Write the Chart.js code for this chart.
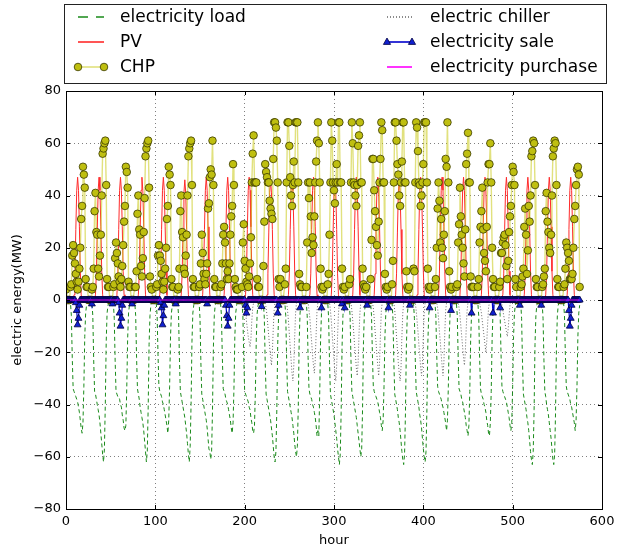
<!DOCTYPE html>
<html><head><meta charset="utf-8">
<script src="https://cdn.jsdelivr.net/npm/chart.js@4.4.1/dist/chart.umd.min.js"></script>
<style>html,body{margin:0;padding:0;background:#fff;}canvas{display:block;}</style>
</head><body>
<canvas id="c" width="621" height="552"></canvas>
<script>
const xTicks = [0,100,200,300,400,500,600];
const yTicks = [-80,-60,-40,-20,0,20,40,60,80];
const seriesNames = ['electricity load','PV','CHP','electric chiller','electricity sale','electricity purchase'];

// hourly values, one line per day (24 days x 24 hours)
const load = [
-1,-1,-1,-1,-1,-1,-6,-22,-34,-35,-36,-37,-38,-39,-41,-43,-46,-49,-51,-47,-33,-14,-5,-2,
-1,-1,-1,-1,-1,-1,-6,-23,-35,-36,-38,-40,-42,-44,-47,-51,-55,-59,-62,-57,-40,-16,-5,-2,
-1,-1,-1,-1,-1,-1,-7,-23,-35,-36,-37,-37,-38,-40,-41,-44,-46,-49,-50,-48,-34,-15,-5,-2,
-1,-1,-1,-1,-1,-1,-6,-22,-34,-36,-38,-41,-43,-45,-47,-50,-54,-58,-62,-58,-41,-17,-6,-2,
-1,-1,-1,-1,-1,-1,-6,-21,-33,-35,-36,-37,-39,-40,-42,-44,-46,-48,-51,-46,-33,-14,-5,-2,
-1,-1,-1,-1,-1,-1,-6,-23,-35,-37,-39,-41,-43,-45,-48,-51,-55,-59,-62,-56,-40,-16,-5,-2,
-1,-1,-1,-1,-1,-1,-7,-24,-36,-38,-40,-42,-44,-46,-49,-53,-57,-58,-61,-58,-42,-18,-6,-2,
-1,-1,-1,-1,-1,-1,-6,-22,-34,-35,-36,-38,-39,-40,-42,-44,-46,-49,-51,-47,-34,-14,-5,-2,
-1,-1,-1,-1,-1,-1,-6,-22,-35,-36,-37,-38,-39,-41,-42,-45,-47,-50,-51,-48,-35,-15,-5,-2,
-1,-1,-1,-1,-1,-1,-7,-24,-36,-38,-40,-42,-44,-46,-49,-52,-56,-60,-62,-58,-42,-17,-6,-2,
-1,-1,-1,-1,-1,-1,-6,-23,-35,-37,-39,-41,-43,-45,-48,-51,-55,-58,-60,-56,-41,-16,-5,-2,
-1,-1,-1,-1,-1,-1,-6,-22,-34,-36,-37,-38,-40,-41,-43,-45,-48,-52,-50,-52,-36,-15,-5,-2,
-1,-1,-1,-1,-1,-1,-7,-24,-36,-38,-40,-42,-44,-47,-50,-53,-57,-60,-63,-59,-43,-18,-6,-2,
-1,-1,-1,-1,-1,-1,-6,-23,-35,-37,-39,-41,-43,-45,-48,-51,-54,-57,-60,-57,-41,-16,-5,-2,
-1,-1,-1,-1,-1,-1,-6,-21,-33,-35,-36,-37,-38,-39,-41,-43,-45,-48,-50,-46,-33,-14,-5,-2,
-1,-1,-1,-1,-1,-1,-7,-24,-36,-38,-40,-42,-45,-47,-50,-54,-58,-61,-63,-59,-43,-18,-6,-2,
-1,-1,-1,-1,-1,-1,-7,-23,-35,-37,-39,-41,-44,-46,-49,-53,-57,-60,-62,-58,-42,-17,-6,-2,
-1,-1,-1,-1,-1,-1,-6,-21,-33,-35,-36,-37,-38,-40,-41,-43,-45,-47,-50,-46,-33,-14,-5,-2,
-1,-1,-1,-1,-1,-1,-6,-22,-34,-35,-36,-38,-39,-41,-43,-45,-48,-50,-52,-48,-35,-15,-5,-2,
-1,-1,-1,-1,-1,-1,-6,-22,-34,-36,-37,-38,-40,-41,-43,-46,-48,-51,-52,-47,-35,-15,-5,-2,
-1,-1,-1,-1,-1,-1,-6,-21,-33,-35,-36,-37,-38,-39,-41,-43,-45,-48,-50,-47,-33,-14,-5,-2,
-1,-1,-1,-1,-1,-1,-7,-24,-36,-38,-40,-42,-45,-47,-50,-54,-58,-61,-63,-58,-42,-17,-6,-2,
-1,-1,-1,-1,-1,-1,-7,-23,-35,-37,-40,-42,-44,-47,-50,-53,-57,-61,-63,-59,-43,-18,-6,-2,
-1,-1,-1,-1,-1,-1,-6,-21,-33,-35,-36,-37,-38,-40,-41,-43,-45,-47,-50,-46,-33,-14,-5,-2
];

const pv = [
0,0,0,0,0,0,0,0,0,2,10,27,42,47,42,28,11,2,0,0,0,0,0,0,
0,0,0,0,0,0,0,0,0,2,10,27,42,47,42,28,11,2,0,0,0,0,0,0,
0,0,0,0,0,0,0,0,0,2,10,27,42,47,42,28,11,2,0,0,0,0,0,0,
0,0,0,0,0,0,0,0,0,2,10,27,42,47,42,28,11,2,0,0,0,0,0,0,
0,0,0,0,0,0,0,0,0,2,10,27,42,47,42,28,11,2,0,0,0,0,0,0,
0,0,0,0,0,0,0,0,0,2,10,26,41,46,41,27,10,2,0,0,0,0,0,0,
0,0,0,0,0,0,0,0,0,2,10,27,42,47,42,28,11,2,0,0,0,0,0,0,
0,0,0,0,0,0,0,0,0,2,10,27,42,47,42,28,11,2,0,0,0,0,0,0,
0,0,0,0,0,0,0,0,0,2,10,27,42,47,42,28,11,2,0,0,0,0,0,0,
0,0,0,0,0,0,0,0,0,2,10,26,41,46,41,27,10,2,0,0,0,0,0,0,
0,0,0,0,0,0,0,0,0,2,10,27,42,47,42,28,11,2,0,0,0,0,0,0,
0,0,0,0,0,0,0,0,0,2,10,27,42,47,42,28,11,2,0,0,0,0,0,0,
0,0,0,0,0,0,0,0,0,2,10,26,41,46,41,27,10,2,0,0,0,0,0,0,
0,0,0,0,0,0,0,0,0,2,10,27,42,47,42,28,11,2,0,0,0,0,0,0,
0,0,0,0,0,0,0,0,0,2,10,27,42,47,42,28,11,2,0,0,0,0,0,0,
0,0,0,0,0,0,0,0,0,2,10,26,41,46,41,27,10,2,0,0,0,0,0,0,
0,0,0,0,0,0,0,0,0,2,10,27,42,47,42,28,11,2,0,0,0,0,0,0,
0,0,0,0,0,0,0,0,0,2,10,27,42,47,42,28,11,2,0,0,0,0,0,0,
0,0,0,0,0,0,0,0,0,2,10,27,42,47,42,28,11,2,0,0,0,0,0,0,
0,0,0,0,0,0,0,0,0,2,10,27,42,47,42,28,11,2,0,0,0,0,0,0,
0,0,0,0,0,0,0,0,0,2,10,27,42,47,42,28,11,2,0,0,0,0,0,0,
0,0,0,0,0,0,0,0,0,2,10,27,42,47,42,28,11,2,0,0,0,0,0,0,
0,0,0,0,0,0,0,0,0,2,10,27,42,47,42,28,11,2,0,0,0,0,0,0,
0,0,0,0,0,0,0,0,0,2,10,27,42,47,42,28,11,2,0,0,0,0,0,0
];

const chp = [
4,0,0,0,0,5,6,17,21,18,14,10,7,4,7,12,20,31,36,51,48,43,8,5,
5,0,0,0,0,4,5,12,34,41,26,25,12,9,17,25,40,56,58,60,61,44,8,5,
5,0,0,0,0,5,6,16,22,18,14,9,7,5,8,13,21,30,36,51,49,43,7,5,
5,0,0,0,0,5,5,11,33,40,27,25,13,9,16,26,39,55,58,60,61,43,9,5,
4,0,0,0,0,5,6,17,21,17,15,10,7,4,7,12,20,31,36,51,48,44,8,5,
5,0,0,0,0,4,5,12,34,40,26,24,12,10,17,25,40,55,58,60,61,44,8,5,
5,0,0,0,0,5,6,14,25,18,10,8,6,10,14,35,37,47,50,48,61,44,8,5,
5,0,0,0,0,5,6,14,25,28,22,14,8,11,8,14,25,32,36,52,44,8,5,4,
4,0,0,0,0,5,22,29,15,12,7,6,5,9,14,24,45,56,63,45,45,45,8,5,
5,0,0,0,0,13,30,52,49,47,45,45,38,35,33,31,54,68,68,66,61,45,8,5,
8,0,0,0,0,6,12,45,68,68,59,47,40,36,44,53,45,68,68,68,45,10,6,5,
5,0,0,0,0,5,22,45,39,45,32,18,24,21,32,45,53,61,68,60,45,12,5,4,
5,0,0,0,0,6,10,25,45,68,61,45,42,37,45,52,45,68,68,45,45,12,5,4,
5,0,0,0,0,6,8,45,68,60,45,44,40,36,44,59,63,68,45,45,12,6,5,4,
5,0,0,0,0,8,23,54,54,42,34,28,21,17,30,45,54,68,65,45,45,10,5,4,
5,0,0,0,0,6,15,45,68,68,61,52,48,40,36,45,53,68,68,45,45,11,5,4,
5,0,0,0,0,12,11,45,68,66,57,45,44,36,40,45,52,68,68,68,45,12,5,4,
5,0,0,0,0,5,8,20,35,45,38,22,31,20,16,25,34,54,51,68,45,11,5,4,
5,0,0,0,0,5,6,22,29,43,32,25,20,14,9,27,52,56,64,45,45,9,5,5,
5,0,0,0,0,5,8,22,28,34,43,27,18,15,11,28,45,52,52,60,45,20,8,5,
5,0,0,0,0,5,7,18,18,22,24,25,21,13,8,15,26,32,36,44,51,49,44,8,
5,0,0,0,0,5,6,9,12,28,35,25,10,19,36,30,40,55,57,61,60,44,8,5,
5,0,0,0,0,5,6,9,12,34,41,30,26,20,18,25,40,55,58,61,60,44,8,5,
5,0,0,0,0,5,6,12,22,20,18,15,8,8,8,10,20,31,36,44,50,51,48,5
];

const chiller = [
0,0,0,0,0,0,0,0,0,0,0,0,0,0,0,0,0,0,0,0,0,0,0,0,
0,0,0,0,0,0,0,0,0,0,0,0,0,0,0,0,0,0,0,0,0,0,0,0,
0,0,0,0,0,0,0,0,0,0,0,0,0,0,0,0,0,0,0,0,0,0,0,0,
0,0,0,0,0,0,0,0,0,0,0,0,0,0,0,0,0,0,0,0,0,0,0,0,
0,0,0,0,0,0,0,0,0,0,0,0,0,0,0,0,0,0,0,0,0,0,0,0,
0,0,0,0,0,0,0,0,0,0,0,0,0,0,0,0,0,0,0,0,0,0,0,0,
0,0,0,0,0,0,0,0,0,0,0,0,0,0,0,0,0,0,0,0,0,0,0,0,
0,0,0,0,0,0,0,0,0,0,0,0,0,0,0,0,0,0,0,0,0,0,0,0,
0,0,0,0,0,0,0,-1,-2,-5,-8,-11,-14,-16,-18,-15,-8,-3,-1,0,0,0,0,0,
0,0,0,0,0,0,0,-1,-3,-6,-10,-14,-18,-22,-25,-20,-11,-4,-1,0,0,0,0,0,
0,0,0,0,0,0,0,-1,-4,-8,-13,-18,-23,-28,-31,-25,-14,-5,-1,0,0,0,0,0,
0,0,0,0,0,0,0,-1,-4,-7,-12,-16,-21,-25,-28,-23,-13,-4,-1,0,0,0,0,0,
0,0,0,0,0,0,0,-1,-4,-8,-13,-18,-23,-28,-31,-25,-14,-5,-1,0,0,0,0,0,
0,0,0,0,0,0,0,-1,-4,-8,-12,-17,-21,-26,-29,-24,-13,-5,-1,0,0,0,0,0,
0,0,0,0,0,0,0,-1,-3,-7,-12,-16,-21,-25,-29,-24,-13,-4,-1,0,0,0,0,0,
0,0,0,0,0,0,0,-1,-4,-9,-14,-19,-24,-28,-31,-26,-14,-5,-1,0,0,0,0,0,
0,0,0,0,0,0,0,-1,-4,-8,-12,-17,-21,-26,-29,-24,-13,-5,-1,0,0,0,0,0,
0,0,0,0,0,0,0,-1,-3,-7,-12,-16,-21,-25,-29,-24,-13,-4,-1,0,0,0,0,0,
0,0,0,0,0,0,0,-1,-3,-6,-10,-14,-18,-22,-25,-20,-11,-4,-1,0,0,0,0,0,
0,0,0,0,0,0,0,-1,-3,-5,-8,-11,-14,-17,-20,-16,-9,-3,-1,0,0,0,0,0,
0,0,0,0,0,0,0,0,-2,-4,-6,-8,-10,-12,-14,-11,-6,-2,0,0,0,0,0,0,
0,0,0,0,0,0,0,0,0,0,0,0,0,0,0,0,0,0,0,0,0,0,0,0,
0,0,0,0,0,0,0,0,0,0,0,0,0,0,0,0,0,0,0,0,0,0,0,0,
0,0,0,0,0,0,0,0,0,0,0,0,0,0,0,0,0,0,0,0,0,0,0,0
];

const sale = [
0,0,0,0,0,0,0,0,0,0,0,-1,-4,-9.5,-7,-2,0,0,0,0,0,0,0,0,
0,0,0,0,0,-1.5,0,0,0,0,0,0,0,0,0,0,0,0,0,0,0,0,0,0,
0,0,0,0,-1.5,0,0,0,0,0,0,-1,-5,-10,-7,-2,0,0,0,0,0,0,0,0,
0,0,-1.5,0,0,0,0,0,0,0,0,0,0,0,0,0,0,0,0,0,0,0,0,0,
0,0,0,0,0,0,0,0,0,0,-1,-3,-9.5,-6,-2,0,0,0,0,0,0,0,0,0,
0,0,0,-1.5,0,0,0,0,0,0,0,0,0,0,0,0,0,0,0,0,0,0,0,0,
0,0,0,0,0,0,0,0,0,0,0,0,0,0,-1.5,0,0,0,0,0,0,0,0,0,
0,0,0,0,0,0,0,0,0,0,0,-2,-6,-10,-7,-2,0,0,0,0,0,0,0,0,
0,0,0,0,0,0,0,0,0,-2,-5,-3,0,0,0,0,0,0,0,0,0,0,0,0,
0,0,0,-2.5,0,0,0,0,0,0,0,0,0,0,0,0,0,0,0,0,0,-5,-2,0,
0,0,0,0,0,0,0,0,0,0,0,0,0,0,0,0,0,0,0,0,0,0,-3,0,
0,0,0,0,0,0,0,0,0,0,0,0,0,0,0,0,0,0,0,0,0,0,-3,0,
0,0,0,0,0,0,0,0,0,0,0,0,0,0,0,0,0,0,0,0,0,-1.5,0,0,
-3,0,0,0,0,0,0,0,0,0,0,0,0,0,0,0,0,0,0,0,0,0,0,0,
0,-2,0,0,0,0,0,0,0,0,0,0,0,0,0,0,0,0,0,0,0,0,0,0,
0,-3,0,0,0,0,0,0,0,0,0,0,0,0,0,0,0,0,0,0,0,0,0,0,
0,-2,0,0,0,0,0,0,0,0,0,0,0,0,0,0,0,0,0,0,0,0,0,-3,
0,0,0,0,0,0,0,0,0,0,0,0,0,0,0,0,0,0,0,0,0,0,0,-4,
0,0,0,0,0,0,0,0,0,0,0,0,0,0,0,0,0,0,0,0,0,0,-5,0,
0,0,0,0,0,0,0,0,0,0,0,0,0,0,0,0,0,0,0,0,0,0,-5,0,
0,0,0,0,0,0,-3,0,0,0,0,0,0,0,0,0,0,0,0,0,0,0,0,0,
0,0,0,0,-2,0,0,0,0,0,0,0,0,0,0,0,0,0,0,0,0,0,0,0,
0,0,0,0,-2,0,0,0,0,0,0,0,0,0,0,0,0,0,0,0,0,0,0,0,
0,0,0,0,0,0,0,0,0,0,0,-4,-10,-7,-2,0,0,0,0,0,0,0,0,0
];

const purchase = [
0,0,0,0,0,0,0,0,0,0,0,0,0,0,0,0,0,0,0,0,0,0,0,0,
0,0,0,0,0,0,0,0,0,0,0,0,0,0,0,0,0,0,0,0,0,0,0,0,
0,0,0,0,0,0,0,0,0,0,0,0,0,0,0,0,0,0,0,0,0,0,0,0,
0,0,0,0,0,0,0,0,0,0,0,0,0,0,0,0,0,0,0,0,0,0,0,0,
0,0,0,0,0,0,0,0,0,0,0,0,0,0,0,0,0,0,0,0,0,0,0,0,
0,0,0,0,0,0,0,0,0,0,0,0,0,0,0,0,0,0,0,0,0,0,0,0,
0,0,0,0,0,0,0,0,0,0,0,0,0,0,0,0,0,0,0,0,0,0,0,0,
0,0,0,0,0,0,0,0,0,0,0,0,0,0,0,0,0,0,0,0,0,0,0,0,
0,0,0,0,0,0,0,0,0,0,0,0,0,0,0,0,0,0,0,0,0,0,0,0,
0,0,0,0,0,0,0,0,0,0,0,0,0,0,0,0,0,0,0,0,0,0,0,0,
0,0,0,0,0,0,0,0,0,0,0,0,0,0,0,0,0,0,0,0,0,0,0,0,
0,0,0,0,0,0,0,0,0,0,0,0,0,0,0,0,0,0,0,0,0,0,0,0,
0,0,0,0,0,0,0,0,0,0,0,0,0,0,0,0,0,0,0,0,0,0,0,0,
0,0,0,0,0,0,0,0,0,0,0,0,0,0,0,0,0,0,0,0,0,0,0,0,
0,0,0,0,0,0,0,0,0,0,0,0,0,0,0,0,0,0,0,0,0,0,0,0,
0,0,0,0,0,0,0,0,0,0,0,0,0,0,0,0,0,0,0,0,0,0,0,0,
0,0,0,0,0,0,0,0,0,0,0,0,0,0,0,0,0,0,0,0,0,0,0,0,
0,0,0,0,0,0,0,0,0,0,0,0,0,0,0,0,0,0,0,0,0,0,0,0,
0,0,0,0,0,0,0,0,0,0,0,0,0,0,0,0,0,0,0,0,0,0,0,0,
0,0,0,0,0,0,0,0,0,0,0,0,0,0,0,0,0,0,0,0,0,0,0,0,
0,0,0,0,0,0,0,0,0,0,0,0,0,0,0,0,0,0,0,0,0,0,0,0,
0,0,0,0,0,0,0,0,0,0,0,0,0,0,0,0,0,0,0,0,0,0,0,0,
0,0,0,0,0,0,0,0,0,0,0,0,0,0,0,0,0,0,0,0,0,0,0,0,
0,0,0,0,0,0,0,0,0,0,0,0,0,0,0,0,0,0,0,0,0,0,0,0
];

[load,pv,chp,chiller,sale,purchase].forEach((a,k)=>{ if(a.length!==576) throw new Error('bad length '+seriesNames[k]+' '+a.length); });

const hours = load.map((_, i) => i);
const pts = arr => arr.map((v, i) => ({x: hours[i], y: v}));

Chart.defaults.font.family = '"DejaVu Sans", sans-serif';
Chart.defaults.color = '#000';

const styles = [
  {borderColor:'#1a8a1a', borderWidth:1, borderDash:[4,3], pointRadius:0, legendDash:[10,8]},
  {borderColor:'#ff2a2a', borderWidth:1, pointRadius:0},
  {borderColor:'rgba(200,200,20,0.55)', borderWidth:1.4, pointRadius:3.8, pointStyle:'circle',
   pointBackgroundColor:'#bfbf10', pointBorderColor:'#3a3a00', pointBorderWidth:0.8},
  {borderColor:'#666666', borderWidth:1, borderDash:[1,2], pointRadius:0, legendDash:[1,2]},
  {borderColor:'#0000cc', borderWidth:1.2, pointRadius:4, pointStyle:'triangle',
   pointBackgroundColor:'#1020d0', pointBorderColor:'#000040', pointBorderWidth:0.8},
  {borderColor:'#ff00ff', borderWidth:1, pointRadius:0}
];
const seriesData = [load, pv, chp, chiller, sale, purchase];

const datasets = seriesData.map((arr, k) => Object.assign({
  label: seriesNames[k],
  data: pts(arr),
  fill: false,
  tension: 0,
  order: 6 - k,
  pointHoverRadius: 0
}, styles[k]));

function drawMarker(ctx, st, x, y) {
  if (!st.pointRadius) return;
  const r = st.pointRadius;
  ctx.save();
  ctx.setLineDash([]);
  ctx.fillStyle = st.pointBackgroundColor;
  ctx.strokeStyle = st.pointBorderColor;
  ctx.lineWidth = st.pointBorderWidth;
  ctx.beginPath();
  if (st.pointStyle === 'triangle') {
    ctx.moveTo(x, y - r);
    ctx.lineTo(x + r * 0.9, y + r * 0.6);
    ctx.lineTo(x - r * 0.9, y + r * 0.6);
    ctx.closePath();
  } else {
    ctx.arc(x, y, r, 0, Math.PI * 2);
  }
  ctx.fill();
  ctx.stroke();
  ctx.restore();
}

const framePlugin = {
  id: 'framePlugin',
  afterDraw(chart) {
    const {ctx, chartArea: a, scales} = chart;
    const xs = scales.x, ys = scales.y;
    ctx.save();
    ctx.setLineDash([]);
    ctx.strokeStyle = '#000';
    ctx.lineWidth = 1;
    ctx.beginPath();
    yTicks.forEach(v => {
      const py = Math.round(ys.getPixelForValue(v)) + 0.5;
      ctx.moveTo(a.left, py); ctx.lineTo(a.left + 4, py);
      ctx.moveTo(a.right, py); ctx.lineTo(a.right - 4, py);
    });
    xTicks.forEach(v => {
      const px = Math.round(xs.getPixelForValue(v)) + 0.5;
      ctx.moveTo(px, a.bottom); ctx.lineTo(px, a.bottom - 4);
      ctx.moveTo(px, a.top); ctx.lineTo(px, a.top + 4);
    });
    ctx.stroke();
    ctx.strokeRect(Math.round(a.left) + 0.5, Math.round(a.top) + 0.5,
                   Math.round(a.right - a.left), Math.round(a.bottom - a.top));

    // legend box (2 columns x 3 rows, column-major)
    ctx.strokeStyle = '#222';
    ctx.strokeRect(64.5, 4.5, 542, 79);
    const rowsY = [17, 42, 67];
    const cols = [{x0: 78, x1: 104, tx: 120}, {x0: 387, x1: 412, tx: 430}];
    ctx.font = '17px "DejaVu Sans", sans-serif';
    ctx.textBaseline = 'middle';
    ctx.textAlign = 'left';
    styles.forEach((st, k) => {
      const c = cols[Math.floor(k / 3)];
      const y = rowsY[k % 3];
      ctx.save();
      ctx.strokeStyle = st.borderColor;
      ctx.lineWidth = 1.6;
      ctx.setLineDash(st.legendDash || st.borderDash || []);
      ctx.beginPath();
      ctx.moveTo(c.x0, y); ctx.lineTo(c.x1, y);
      ctx.stroke();
      ctx.restore();
      drawMarker(ctx, st, c.x0, y);
      drawMarker(ctx, st, c.x1, y);
      ctx.fillStyle = '#000';
      ctx.fillText(seriesNames[k], c.tx, y + 1);
    });
    ctx.restore();
  }
};

const fmt = v => (v < 0 ? '\u2212' + Math.abs(v) : String(v));

new Chart(document.getElementById('c'), {
  type: 'line',
  data: { datasets },
  options: {
    responsive: false,
    animation: false,
    events: [],
    parsing: false,
    normalized: true,
    devicePixelRatio: 1,
    layout: { padding: { top: 91, right: 19, bottom: 0, left: 0 } },
    plugins: { legend: { display: false }, tooltip: { enabled: false } },
    elements: { line: { tension: 0 } },
    scales: {
      x: {
        type: 'linear', min: 0, max: 600,
        afterBuildTicks: s => { s.ticks = xTicks.map(v => ({value: v})); },
        afterFit: s => { s.height = 43; },
        ticks: { font: { size: 13 }, color: '#000', padding: 5, maxRotation: 0 },
        grid: { color: 'rgba(0,0,0,0.5)', lineWidth: 1, drawTicks: false },
        border: { display: false, dash: [1, 3] },
        title: { display: true, text: 'hour', font: { size: 13 }, color: '#000', padding: { top: 2, bottom: 4 } }
      },
      y: {
        type: 'linear', min: -80, max: 80,
        afterBuildTicks: s => { s.ticks = yTicks.map(v => ({value: v})); },
        afterFit: s => { s.width = 66; },
        ticks: { font: { size: 13 }, color: '#000', padding: 5, callback: fmt },
        grid: { color: 'rgba(0,0,0,0.5)', lineWidth: 1, drawTicks: false },
        border: { display: false, dash: [1, 3] },
        title: { display: true, text: 'electric energy(MW)', font: { size: 13 }, color: '#000', padding: { top: 10, bottom: 0 } }
      }
    }
  },
  plugins: [framePlugin]
});
</script>
</body></html>
